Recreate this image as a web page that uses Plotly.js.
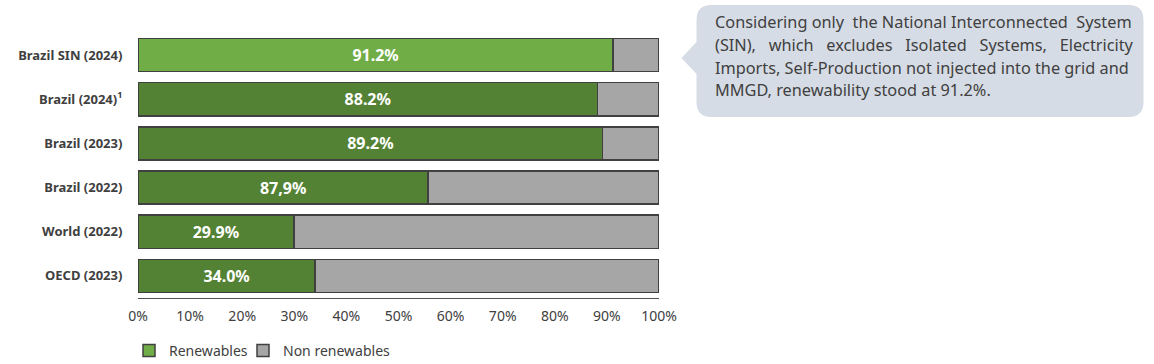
<!DOCTYPE html>
<html>
<head>
<meta charset="utf-8">
<script src="https://cdn.plot.ly/plotly-3.0.1.min.js"></script>
<style>html,body{margin:0;padding:0;background:#fff}#chart{width:1154px;height:364px}</style>
</head>
<body>
<div id="chart"></div>
<script>
// Categories (top to bottom)
const categories = ["Brazil SIN (2024)", "Brazil (2024)<sup>1</sup>", "Brazil (2023)", "Brazil (2022)", "World (2022)", "OECD (2023)"];
// Renewable share as drawn (bar lengths, %)
const renewables = [91.2, 88.2, 89.2, 55.7, 29.9, 34.0];
// Labels as printed on the bars
const renewableLabels = ["91.2%", "88.2%", "89.2%", "87,9%", "29.9%", "34.0%"];
// Non-renewable share (remainder of each bar)
const nonRenewables = [8.8, 11.8, 10.8, 44.3, 70.1, 66.0];
const xTickValues = [0, 10, 20, 30, 40, 50, 60, 70, 80, 90, 100];
const xTickLabels = ["0%", "10%", "20%", "30%", "40%", "50%", "60%", "70%", "80%", "90%", "100%"];
const calloutLines = [
  "Considering only the National Interconnected System",
  "(SIN), which excludes Isolated Systems, Electricity",
  "Imports, Self-Production not injected into the grid and",
  "MMGD, renewability stood at 91.2%."
];
// extra non-breaking spaces for each word gap, to imitate the justified paragraph
const justifyPad = [[0, 1, 0, 0, 1], [2, 2, 2, 2, 2], [], []];

const FONT = "Noto Sans, Open Sans, sans-serif";
const outline = {color: "#404040", width: 1.5};

const traces = [
  {
    type: "bar", orientation: "h", name: "Renewables", legend: "legend",
    y: categories, x: renewables, text: renewableLabels,
    textposition: "inside", insidetextanchor: "middle", constraintext: "none",
    textfont: {family: FONT, size: 16, color: "#ffffff", weight: "bold"},
    marker: {color: ["#70ad47", "#548235", "#548235", "#548235", "#548235", "#548235"], line: outline},
    hoverinfo: "skip"
  },
  {
    type: "bar", orientation: "h", name: "Non renewables", legend: "legend2",
    y: categories, x: nonRenewables,
    textposition: "none",
    marker: {color: "#a6a6a6", line: outline},
    hoverinfo: "skip"
  }
];

function justify(line, pads) {
  const words = line.split(" ");
  return words.map((w, k) => k === 0 ? w : " " + "\u00A0".repeat(pads[k - 1] || 0) + w).join("");
}

const L = 137.5, R = 659.5, T = 33, B = 298, H = 364, W = 1154;
const legendBase = {
  orientation: "h", xref: "container", yref: "container",
  xanchor: "left", y: (H - 351) / H, yanchor: "middle",
  font: {family: FONT, size: 14, color: "#404040"},
  itemwidth: 30, bgcolor: "rgba(0,0,0,0)"
};
const layout = {
  width: W, height: H,
  margin: {l: L, r: W - R, t: T, b: H - B, pad: 0, autoexpand: false},
  barmode: "stack", bargap: 0.25,
  paper_bgcolor: "#ffffff", plot_bgcolor: "#ffffff",
  font: {family: FONT, color: "#404040"},
  showlegend: true,
  legend: Object.assign({}, legendBase, {x: 129 / W}),
  legend2: Object.assign({}, legendBase, {x: 243 / W}),
  xaxis: {
    range: [0, 100], tickvals: xTickValues, ticktext: xTickLabels,
    showgrid: false, zeroline: false, showline: true, linecolor: "#505050", linewidth: 1,
    ticks: "outside", ticklen: 5, tickcolor: "rgba(0,0,0,0)",
    tickfont: {family: FONT, size: 14, color: "#404040"}, fixedrange: true, automargin: false
  },
  yaxis: {
    type: "category", autorange: "reversed",
    showgrid: false, zeroline: false, showline: false,
    ticks: "outside", ticklen: 12, tickcolor: "rgba(0,0,0,0)",
    tickfont: {family: FONT, size: 13, color: "#404040", weight: "bold"}, fixedrange: true, automargin: false
  },
  shapes: [
    {
      type: "path", xref: "paper", yref: "paper", layer: "below",
      xsizemode: "pixel", ysizemode: "pixel", xanchor: 0, yanchor: 0,
      path: "",
      fillcolor: "#d6dce5", line: {width: 0}
    }
  ],
  annotations: calloutLines.map((line, i) => ({
    xref: "paper", yref: "paper",
    x: (714 - L) / (R - L), y: (B - (22.5 + 22.5 * i)) / (B - T),
    xanchor: "left", yanchor: "middle", align: "left", showarrow: false,
    text: justify(line, justifyPad[i]),
    font: {family: FONT, size: 16.3, color: "#404040"}
  }))
};

// Callout bubble outline (pixel path relative to the paper origin at bottom-left of the plot area)
(function () {
  const px = (x) => (x - L);
  const py = (y) => (B - y);
  const x0 = 696, x1 = 1143, y0 = 5, y1 = 117, r = 15;
  const tipX = 681, tipY = 58, pTop = 42, pBot = 74;
  const P = (x, y) => px(x) + "," + py(y);
  layout.shapes[0].path =
    "M" + P(x0 + r, y0) +
    " L" + P(x1 - r, y0) +
    " Q" + P(x1, y0) + " " + P(x1, y0 + r) +
    " L" + P(x1, y1 - r) +
    " Q" + P(x1, y1) + " " + P(x1 - r, y1) +
    " L" + P(x0 + r, y1) +
    " Q" + P(x0, y1) + " " + P(x0, y1 - r) +
    " L" + P(x0, pBot) +
    " L" + P(tipX, tipY) +
    " L" + P(x0, pTop) +
    " L" + P(x0, y0 + r) +
    " Q" + P(x0, y0) + " " + P(x0 + r, y0) + " Z";
})();

Plotly.newPlot("chart", traces, layout, {displayModeBar: false, staticPlot: true});
</script>
</body>
</html>
